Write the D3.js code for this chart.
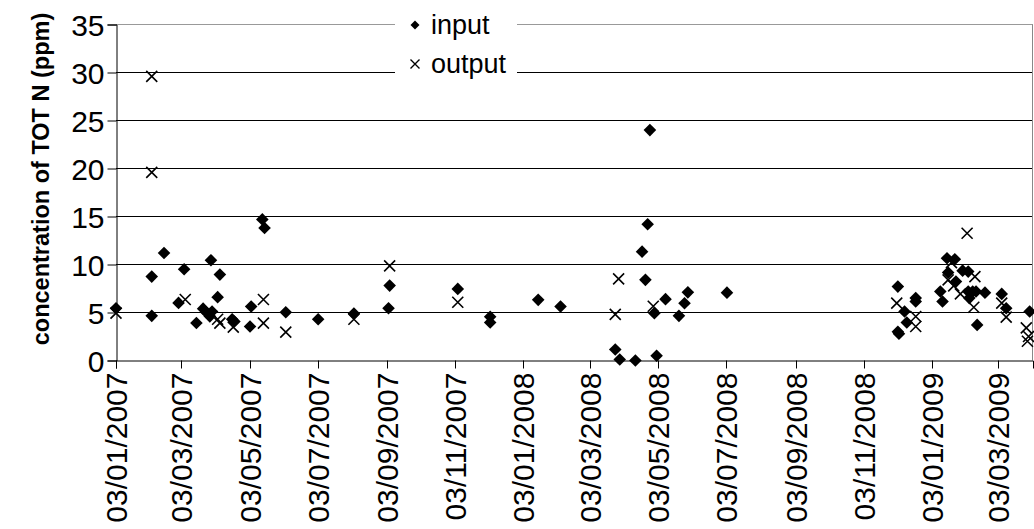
<!DOCTYPE html>
<html>
<head>
<meta charset="utf-8">
<script src="https://cdn.jsdelivr.net/npm/d3@7"></script>
<style>
  html, body { margin: 0; padding: 0; background: #fff; }
  svg { display: block; font-family: "Liberation Sans", Arial, sans-serif; }
</style>
</head>
<body>
<svg id="chart" width="1034" height="529"></svg>
<script>
// ---- data (dates are dd/mm in the original; stored ISO here) ----
const inputDates = [
  "2007-01-03","2007-02-04","2007-02-04","2007-02-15","2007-02-28","2007-03-05","2007-03-16",
  "2007-03-22","2007-03-25","2007-03-28","2007-03-30","2007-03-29","2007-04-04","2007-04-06",
  "2007-04-17","2007-04-19","2007-05-03","2007-05-04","2007-05-14","2007-05-16","2007-06-04",
  "2007-07-03","2007-08-04","2007-09-05","2007-09-04","2007-11-05","2007-12-04","2007-12-04",
  "2008-01-16","2008-02-05","2008-03-25","2008-03-29","2008-04-12","2008-04-18","2008-04-21",
  "2008-04-23","2008-04-25","2008-04-29","2008-05-01","2008-05-09","2008-05-21","2008-05-26",
  "2008-05-29","2008-07-03","2008-12-03","2008-12-03","2008-12-04","2008-12-09","2008-12-11",
  "2008-12-19","2008-12-19","2009-01-10","2009-01-12","2009-01-16","2009-01-17","2009-01-23",
  "2009-01-24","2009-01-30","2009-02-04","2009-02-04","2009-02-05","2009-02-08","2009-02-11",
  "2009-02-12","2009-02-19","2009-03-06","2009-03-10","2009-03-31"
];
const inputValues = [
  5.45, 8.74, 4.65, 11.2, 6.0, 9.5, 3.9,
  5.4, 5.0, 4.6, 5.1, 10.45, 6.6, 8.95,
  4.3, 4.06, 3.54, 5.62, 14.7, 13.8, 5.03,
  4.3, 4.9, 7.8, 5.45, 7.46, 4.55, 3.96,
  6.32, 5.62, 1.15, 0.1, 0.0, 11.34, 8.4,
  14.2, 24.0, 4.93, 0.5, 6.39, 4.65, 5.97,
  7.1, 7.07, 7.7, 3.0, 2.78, 5.1, 3.96,
  6.5, 6.14, 7.18, 6.14, 10.65, 9.16, 10.55,
  8.22, 9.36, 9.26, 7.18, 6.5, 7.18, 7.18,
  3.71, 7.07, 6.94, 5.45, 5.1
];
const outputDates = [
  "2007-01-03","2007-02-04","2007-02-04","2007-03-06","2007-04-04","2007-04-06","2007-04-18",
  "2007-05-15","2007-05-15","2007-06-04","2007-08-04","2007-09-05","2007-11-05",
  "2008-03-25","2008-03-28","2008-04-28","2008-12-02","2008-12-19","2008-12-19",
  "2009-01-17","2009-01-20","2009-01-22","2009-01-28","2009-02-03","2009-02-10","2009-02-09",
  "2009-03-06","2009-03-10","2009-03-28","2009-03-30","2009-03-29"
];
const outputValues = [
  4.93, 29.6, 19.6, 6.35, 4.3, 3.9, 3.47,
  6.35, 3.9, 2.95, 4.3, 9.85, 6.07,
  4.8, 8.5, 5.65, 5.97, 4.58, 3.54,
  8.4, 10.2, 7.77, 6.94, 13.25, 8.74, 5.55,
  5.97, 4.52, 3.4, 2.5, 2.0
];
const yTicks = [0, 5, 10, 15, 20, 25, 30, 35];
const xTickDates = [
  "2007-01-03","2007-03-03","2007-05-03","2007-07-03","2007-09-03","2007-11-03",
  "2008-01-03","2008-03-03","2008-05-03","2008-07-03","2008-09-03","2008-11-03",
  "2009-01-03","2009-03-03"
];
const xDomain = ["2007-01-03", "2009-04-03"];
const yTitle = "concentration of TOT N (ppm)";
const seriesNames = ["input", "output"];

// ---- drawing ----
const parse = d3.utcParse("%Y-%m-%d");
const fmt = d3.utcFormat("%d/%m/%Y");
const svg = d3.select("#chart");

const x = d3.scaleUtc().domain(xDomain.map(parse)).range([116, 1033]);
const y = d3.scaleLinear().domain([0, 35]).range([360.5, 24.5]);
const px = v => Math.round(v) + 0.5;

// gridlines
svg.append("g").selectAll("line").data(yTicks.filter(t => t > 0)).join("line")
  .attr("x1", 116).attr("x2", 1033)
  .attr("y1", d => y(d)).attr("y2", d => y(d))
  .attr("stroke", d => d === 35 ? "#999" : "#000").attr("stroke-width", 1);

// right border of plot area
svg.append("line").attr("x1", 1032.5).attr("x2", 1032.5).attr("y1", y(35)).attr("y2", y(0))
  .attr("stroke", "#888");

// y axis
const yAxis = svg.append("g").attr("transform", "translate(116.5,0)")
  .call(d3.axisLeft(y).tickValues(yTicks).tickSize(9).tickPadding(3).tickFormat(d3.format("d")));
yAxis.select(".domain").attr("stroke", "#000");
yAxis.selectAll(".tick line").attr("stroke", "#000");
yAxis.selectAll("text").attr("font-size", 30).attr("fill", "#000")
  .attr("font-family", "'Liberation Sans', Arial, sans-serif").attr("dy", "0.36em");

// x axis
const xAxis = svg.append("g").attr("transform", "translate(0," + y(0) + ")")
  .call(d3.axisBottom(x).tickValues(xTickDates.map(parse)).tickSize(8).tickFormat(fmt));
xAxis.select(".domain").attr("stroke", "#000");
xAxis.selectAll(".tick").attr("transform", d => "translate(" + px(x(d) - 0.5) + ",0)");
xAxis.selectAll(".tick line").attr("stroke", "#000");
xAxis.selectAll(".tick text")
  .attr("font-size", 30).attr("fill", "#000")
  .attr("font-family", "'Liberation Sans', Arial, sans-serif")
  .attr("text-anchor", "end")
  .attr("transform", "rotate(-90)")
  .attr("x", -12).attr("y", 0).attr("dy", "0.36em");

// y title
svg.append("text")
  .attr("transform", "translate(49,179) rotate(-90)")
  .attr("text-anchor", "middle")
  .attr("font-size", 23.5).attr("font-weight", "bold").attr("fill", "#000")
  .text(yTitle);

// markers
const diamond = s => `M0,${-s}L${s},0L0,${s}L${-s},0Z`;
const cross = s => `M${-s},${-s}L${s},${s}M${-s},${s}L${s},${-s}`;

const inputData = inputDates.map((d, i) => ({ date: parse(d), value: inputValues[i] }));
const outputData = outputDates.map((d, i) => ({ date: parse(d), value: outputValues[i] }));

svg.append("g").selectAll("path").data(inputData).join("path")
  .attr("transform", d => `translate(${x(d.date)},${y(d.value)})`)
  .attr("d", diamond(6.3)).attr("fill", "#000");

svg.append("g").selectAll("path").data(outputData).join("path")
  .attr("transform", d => `translate(${x(d.date)},${y(d.value)})`)
  .attr("d", cross(5.5)).attr("fill", "none").attr("stroke", "#000").attr("stroke-width", 1.6);

// legend
const lg = svg.append("g");
lg.append("rect").attr("x", 395).attr("y", 0).attr("width", 122).attr("height", 84).attr("fill", "#fff");
lg.append("path").attr("transform", "translate(415,25)").attr("d", diamond(4.5)).attr("fill", "#000");
lg.append("path").attr("transform", "translate(415,64)").attr("d", cross(4.5))
  .attr("fill", "none").attr("stroke", "#000").attr("stroke-width", 1.4);
lg.append("text").attr("x", 431).attr("y", 25).attr("dy", "0.35em")
  .attr("font-size", 27).attr("fill", "#000").text(seriesNames[0]);
lg.append("text").attr("x", 431).attr("y", 64).attr("dy", "0.35em")
  .attr("font-size", 27).attr("fill", "#000").text(seriesNames[1]);
</script>
</body>
</html>
